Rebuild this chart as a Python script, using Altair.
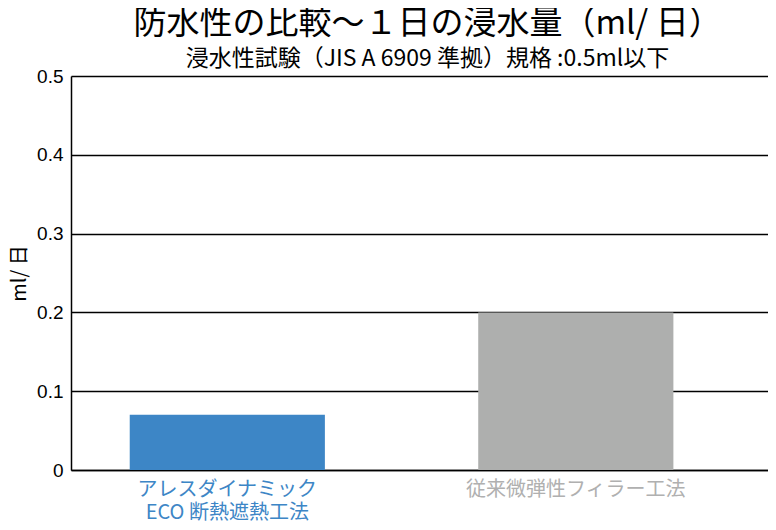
import altair as alt
import pandas as pd

categories = ["アレスダイナミック|ECO 断熱遮熱工法", "従来微弾性フィラー工法"]
values = [0.07, 0.2]
colors = ["#3d86c6", "#aeafae"]
label_colors = ["#3d86c6", "#b0b0b0"]
y_ticks = [0, 0.1, 0.2, 0.3, 0.4, 0.5]

df = pd.DataFrame({"cat": categories, "val": values, "color": colors})

FONT = "Noto Sans CJK JP"

bars = alt.Chart(df).mark_bar().encode(
    x=alt.X(
        "cat:N",
        sort=categories,
        scale=alt.Scale(paddingInner=0.44, paddingOuter=0.22, align=0.383),
        axis=alt.Axis(
            title=None,
            labelAngle=0,
            labelFontSize=20,
            labelFont=FONT,
            labelPadding=9,
            labelLineHeight=23,
            labelExpr="split(datum.label, '|')",
            labelColor=alt.expr(
                f"datum.value == '{categories[0]}' ? '{label_colors[0]}' : '{label_colors[1]}'"
            ),
            ticks=False,
            domainColor="#000",
            domainWidth=1.5,
            labelLimit=400,
        ),
    ),
    y=alt.Y(
        "val:Q",
        scale=alt.Scale(domain=[0, 0.5]),
        axis=alt.Axis(
            title="ml/ 日",
            titleFont=FONT,
            titleFontSize=20,
            titleFontWeight="normal",
            titleColor="#000",
            titlePadding=7,
            values=y_ticks,
            labelExpr="datum.value == 0 ? '0' : format(datum.value, '.1f')",
            labelFont="Liberation Sans",
            labelFontSize=19,
            labelColor="#000",
            labelPadding=8,
            ticks=False,
            grid=True,
            gridColor="#000",
            gridWidth=1.3,
            domainColor="#000",
            domainWidth=1.5,
        ),
    ),
    color=alt.Color("color:N", scale=None),
)

chart = bars.properties(
    width=760,
    height=514,
    autosize=alt.AutoSizeParams(type="fit", contains="padding"),
    padding={"left": 1, "top": 0, "right": 0, "bottom": 0},
    title=alt.TitleParams(
        text="防水性の比較～１日の浸水量（ml/ 日）",
        subtitle="浸水性試験（JIS A 6909 準拠）規格 :0.5ml以下",
        font=FONT,
        fontSize=33,
        fontWeight="normal",
        color="#000",
        subtitleFont=FONT,
        subtitleFontSize=23,
        subtitleColor="#000",
        subtitlePadding=7,
        anchor="middle",
        dx=8,
        offset=-4,
    ),
).configure_view(stroke="#000", strokeWidth=1.5).configure(background="white")

chart.save("out.html", embed_options={"renderer": "svg", "actions": False})
